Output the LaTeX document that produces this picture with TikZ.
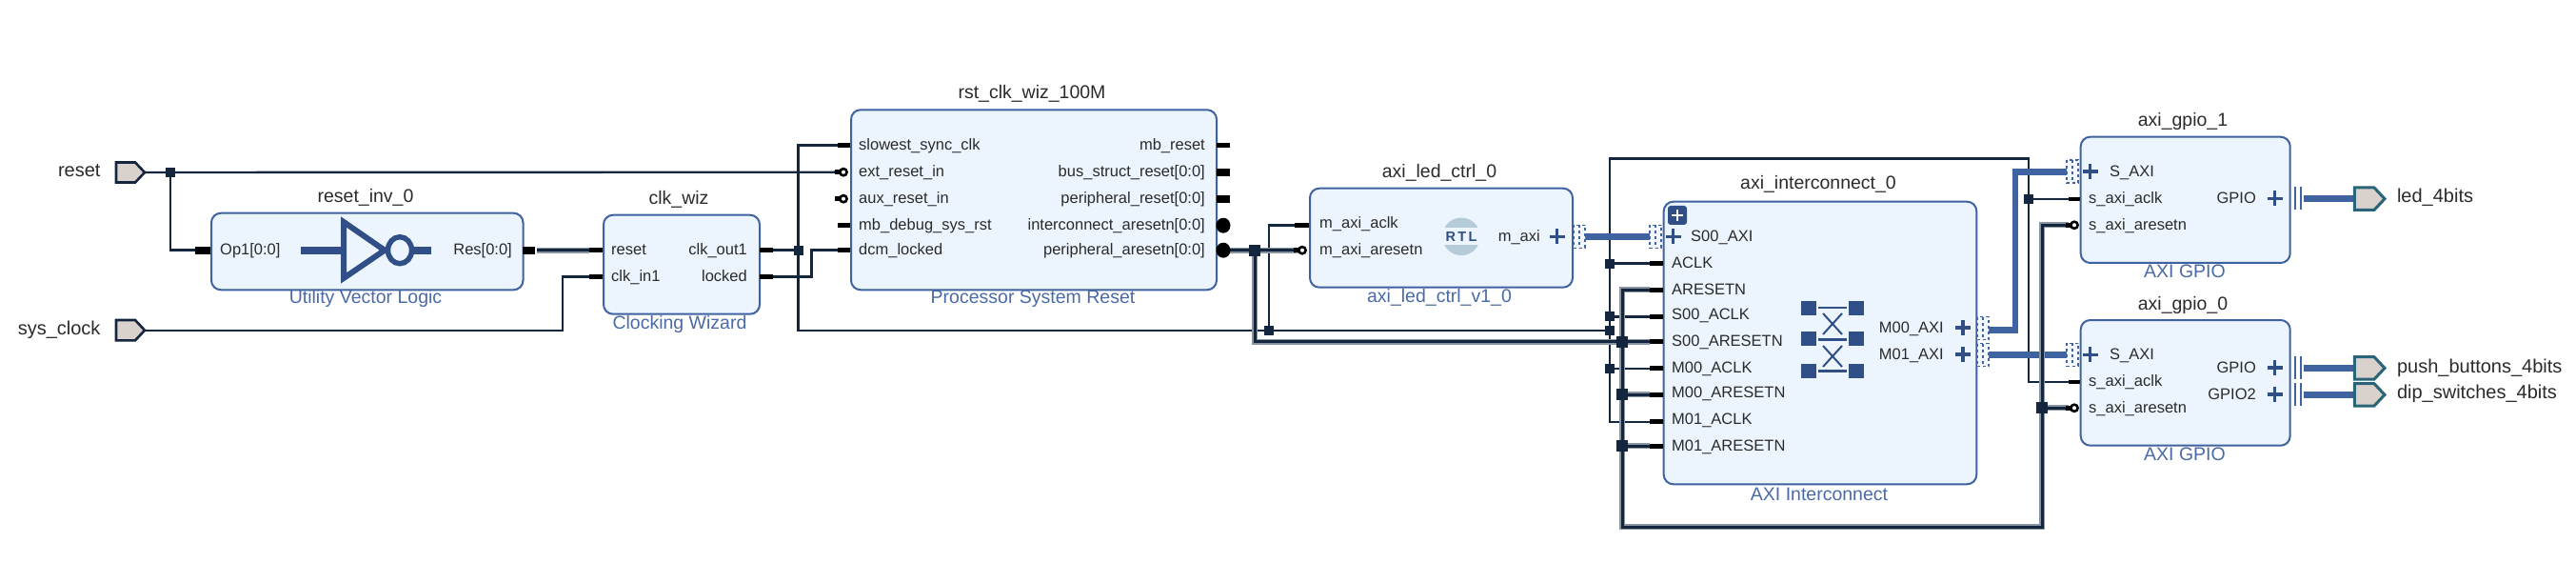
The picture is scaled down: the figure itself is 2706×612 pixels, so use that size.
\documentclass[tikz,border=0pt]{standalone}
\usepackage{fontspec}
\setmainfont{Liberation Sans}
\usetikzlibrary{backgrounds}
\definecolor{wirec}{HTML}{13263E}
\definecolor{thickc}{HTML}{8A95A2}
\definecolor{busc}{HTML}{3F62A0}
\definecolor{boxf}{HTML}{ECF4FD}
\definecolor{boxd}{HTML}{3F62A0}
\definecolor{iconc}{HTML}{2F4F86}
\definecolor{subc}{HTML}{4A6AA8}
\definecolor{txtc}{HTML}{2B2B2B}
\definecolor{portf}{HTML}{D9D2CC}
\definecolor{portd}{HTML}{2A6478}
\definecolor{rtlc}{HTML}{B5CBD8}
\tikzset{
  ipblock/.style={draw=boxd,fill=boxf,line width=2,rounded corners=10,inner sep=0,anchor=north west},
  wire/.style={draw=wirec,line width=2.4},
  fatwire/.style={draw=thickc,line width=6,postaction={draw=wirec,line width=3}},
  buswire/.style={draw=busc,line width=6.5},
  jct/.style={fill=wirec,inner sep=0,minimum width=10,minimum height=10},
  fatjct/.style={fill=wirec,inner sep=0,minimum width=12,minimum height=12},
  pin/.style={font=\fontsize{16.5}{18}\selectfont,text=txtc,inner sep=0,text height=12,text depth=1.5},
  pinl/.style={pin,anchor=west},
  pinr/.style={pin,anchor=east},
  title/.style={font=\fontsize{19.5}{22}\selectfont,text=txtc,inner sep=0,text height=14,text depth=2,anchor=center},
  sub/.style={font=\fontsize{19.5}{22}\selectfont,text=subc,inner sep=0,text height=14,text depth=2,anchor=center},
  extl/.style={font=\fontsize{20}{22}\selectfont,text=txtc,inner sep=0,text height=14.5,text depth=2},
  stub/.style={draw=black,line width=4.5},
  busstub/.style={draw=black,line width=8},
  plusm/.style={draw=iconc,line width=3.4},
  inport/.style={draw=wirec,fill=portf,line width=2.6},
  outport/.style={draw=portd,fill=portf,line width=3},
  dotb/.style={fill=boxf!70,draw=busc,line width=1.3,dash pattern=on 3 off 3},
}
\newcommand{\plusmk}[2]{\draw[plusm] (#1,#2) ++(-8,0) -- ++(16,0) (#1,#2) ++(0,-8) -- ++(0,16);}
\newcommand{\dotbx}[2]{\draw[dotb] (#1-6,#2-12) rectangle (#1+6,#2+12) (#1,#2-12) -- (#1,#2+12);}
\newcommand{\bubble}[2]{\draw[stub] (#1-8,#2) -- (#1+4,#2); \draw[draw=black,fill=white,line width=2.6] (#1+1,#2) circle (3.6);}
\newcommand{\barsq}[2]{\fill[iconc] (#1,#2) rectangle ++(16,15);}
\begin{document}
\begin{tikzpicture}[x=1pt,y=-1pt]
\useasboundingbox (0,0) rectangle (2706,612);
\begin{scope}[on background layer]
\fill[white] (0,0) rectangle (2706,612);
\end{scope}

% ---- blocks
\node[ipblock,minimum width=327.5,minimum height=80.6] (inv) at (221,222.7) {};
\node[ipblock,minimum width=164,minimum height=104] (wiz) at (633,224.7) {};
\node[ipblock,minimum width=384,minimum height=189] (rst) at (893,114.3) {};
\node[ipblock,minimum width=276,minimum height=104] (led) at (1375,196.7) {};
\node[ipblock,minimum width=328.6,minimum height=296.6] (ic) at (1746.7,210.7) {};
\node[ipblock,minimum width=220,minimum height=132.3] (g1) at (2184.7,142.7) {};
\node[ipblock,minimum width=220,minimum height=131.7] (g0) at (2184.7,335) {};

% ---- titles
\node[title] (t1) at (384,206.7) {reset\_inv\_0};
\node[title] (t2) at (713,209) {clk\_wiz};
\node[title] (t3) at (1084,98) {rst\_clk\_wiz\_100M};
\node[title] (t4) at (1512,180.7) {axi\_led\_ctrl\_0};
\node[title] (t5) at (1910,192.7) {axi\_interconnect\_0};
\node[title] (t6) at (2293,126.7) {axi\_gpio\_1};
\node[title] (t7) at (2293,319.3) {axi\_gpio\_0};
\node[sub] (s1) at (384,313) {Utility Vector Logic};
\node[sub] (s2) at (714,339.7) {Clocking Wizard};
\node[sub] (s3) at (1085,313) {Processor System Reset};
\node[sub] (s4) at (1512,311.7) {axi\_led\_ctrl\_v1\_0};
\node[sub] (s5) at (1911,519.3) {AXI Interconnect};
\node[sub] (s6) at (2295,285.3) {AXI GPIO};
\node[sub] (s7) at (2295,477) {AXI GPIO};

% ---- external ports
\draw[inport] (122,170.5) -- (142,170.5) -- (152,181) -- (142,191.5) -- (122,191.5) -- cycle;
\draw[inport] (122,336) -- (142,336) -- (152,346.7) -- (142,357.4) -- (122,357.4) -- cycle;
\draw[outport] (2473.4,197) -- (2494,197) -- (2505,208.7) -- (2494,220.4) -- (2473.4,220.4) -- cycle;
\draw[outport] (2473.4,374.7) -- (2494,374.7) -- (2505,386.4) -- (2494,398.1) -- (2473.4,398.1) -- cycle;
\draw[outport] (2473.4,402.7) -- (2494,402.7) -- (2505,414.4) -- (2494,426.1) -- (2473.4,426.1) -- cycle;
\coordinate (pReset) at (152,181);
\coordinate (pSys) at (152,346.7);
\coordinate (pLed) at (2473.4,208.7);
\coordinate (pPush) at (2473.4,386.4);
\coordinate (pDip) at (2473.4,414.4);
\node[extl,anchor=east] (l1) at (105.7,179) {reset};
\node[extl,anchor=east] (l2) at (105.7,345) {sys\_clock};
\node[extl,anchor=west] (l3) at (2517.8,206.7) {led\_4bits};
\node[extl,anchor=west] (l4) at (2517.8,385) {push\_buttons\_4bits};
\node[extl,anchor=west] (l5) at (2517.8,412.7) {dip\_switches\_4bits};

% ---- pin labels
\node[pinl] at (231,262.7) {Op1[0:0]};
\node[pinr] at (538,262.7) {Res[0:0]};
\node[pinl] at (642,262.7) {reset};
\node[pinl] at (642,290.7) {clk\_in1};
\node[pinr] at (785,262.7) {clk\_out1};
\node[pinr] at (785,290.7) {locked};
\node[pinl] at (902,152.7) {slowest\_sync\_clk};
\node[pinl] at (902,180.7) {ext\_reset\_in};
\node[pinl] at (902,208.7) {aux\_reset\_in};
\node[pinl] at (902,236.7) {mb\_debug\_sys\_rst};
\node[pinl] at (902,262.7) {dcm\_locked};
\node[pinr] at (1266,152.7) {mb\_reset};
\node[pinr] at (1266,180.7) {bus\_struct\_reset[0:0]};
\node[pinr] at (1266,208.7) {peripheral\_reset[0:0]};
\node[pinr] at (1266,236.7) {interconnect\_aresetn[0:0]};
\node[pinr] at (1266,262.7) {peripheral\_aresetn[0:0]};
\node[pinl] at (1386,234.5) {m\_axi\_aclk};
\node[pinl] at (1386,262.7) {m\_axi\_aresetn};
\node[pinr] at (1618,248.3) {m\_axi};
\node[pinl] at (1776,248) {S00\_AXI};
\node[pinl] at (1756,276.7) {ACLK};
\node[pinl] at (1756,304.3) {ARESETN};
\node[pinl] at (1756,330.7) {S00\_ACLK};
\node[pinl] at (1756,358.7) {S00\_ARESETN};
\node[pinl] at (1756,386.7) {M00\_ACLK};
\node[pinl] at (1756,412.7) {M00\_ARESETN};
\node[pinl] at (1756,440) {M01\_ACLK};
\node[pinl] at (1756,468.3) {M01\_ARESETN};
\node[pinr] at (2042,344) {M00\_AXI};
\node[pinr] at (2042,372) {M01\_AXI};
\node[pinl] at (2216,180) {S\_AXI};
\node[pinl] at (2194,208.3) {s\_axi\_aclk};
\node[pinl] at (2194,236.3) {s\_axi\_aresetn};
\node[pinr] at (2370,208.3) {GPIO};
\node[pinl] at (2216,372.3) {S\_AXI};
\node[pinl] at (2194,400.7) {s\_axi\_aclk};
\node[pinl] at (2194,428.3) {s\_axi\_aresetn};
\node[pinr] at (2370,386) {GPIO};
\node[pinr] at (2370,414) {GPIO2};

% ---- pin coordinates
\coordinate (invI) at (205,262.7);
\coordinate (invO) at (564,262.7);
\coordinate (wizR) at (619,262.7);
\coordinate (wizC) at (619,290.7);
\coordinate (wizO) at (812,262.7);
\coordinate (wizL) at (812,290.7);
\coordinate (rstS) at (880,152.7);
\coordinate (rstE) at (880,180.7);
\coordinate (rstD) at (880,262.7);
\coordinate (rstP) at (1292,262.7);
\coordinate (ledC) at (1360,236.7);
\coordinate (ledR) at (1368,262.7);
\coordinate (ledM) at (1664,248.3);
\coordinate (icS) at (1732.7,248.3);
\coordinate (icC) at (1733,276.7);
\coordinate (icR) at (1733,304.3);
\coordinate (icSC) at (1733,332.3);
\coordinate (icSR) at (1733,358.7);
\coordinate (icMC) at (1733,386.7);
\coordinate (icMR) at (1733,414.3);
\coordinate (icNC) at (1733,442.7);
\coordinate (icNR) at (1733,468.3);
\coordinate (icM0) at (2088,346.7);
\coordinate (icM1) at (2088,372.7);
\coordinate (g1S) at (2173,180.7);
\coordinate (g1C) at (2173.4,209);
\coordinate (g1R) at (2173.4,236.3);
\coordinate (g0S) at (2173,372.7);
\coordinate (g0C) at (2173.4,401);
\coordinate (g0R) at (2173.4,428.3);
\coordinate (g1G) at (2419.5,208.7);
\coordinate (g0G) at (2419.5,386.4);
\coordinate (g0H) at (2419.5,414.4);

% ---- pin stubs
\draw[busstub] (205,262.7) -- (221,262.7);
\draw[busstub] (548.5,262.7) -- (562,262.7);
\draw[stub] (619,262.7) -- (633,262.7);
\draw[stub] (619,290.7) -- (633,290.7);
\draw[stub] (798,262.7) -- (812,262.7);
\draw[stub] (798,290.7) -- (812,290.7);
\draw[stub] (880,152.7) -- (893,152.7);
\bubble{885}{180.7}
\bubble{885}{208.7}
\draw[stub] (880,236.7) -- (893,236.7);
\draw[stub] (880,262.7) -- (893,262.7);
\draw[stub] (1278,152.7) -- (1292,152.7);
\draw[busstub] (1278,180.7) -- (1292,180.7);
\draw[busstub] (1278,208.7) -- (1292,208.7);
\fill[black] (1285,236.7) ellipse (7.5 and 8);
\fill[black] (1285,262.7) ellipse (7.5 and 8);
\draw[stub] (1360,236.7) -- (1375,236.7);
\bubble{1367}{262.7}
\foreach \yy in {276.7,304.3,332.3,358.7,386.7,414.3,442.7,468.3}
  {\draw[stub] (1733,\yy) -- (1746.7,\yy);}
\draw[stub] (2173.4,209) -- (2184.7,209);
\draw[stub] (2173.4,401) -- (2184.7,401);
\bubble{2178}{236.3}
\bubble{2178}{428.3}

% ---- plus marks and interface marks
\plusmk{1635.6}{248.3}
\plusmk{1757.7}{248.3}
\plusmk{2062}{344}
\plusmk{2062}{372}
\plusmk{2195.6}{180}
\plusmk{2195.6}{372.3}
\plusmk{2389.7}{208.3}
\plusmk{2389.7}{386}
\plusmk{2389.7}{414}
\dotbx{1659}{248.3}
\dotbx{1739}{248.3}
\dotbx{2083}{344.7}
\dotbx{2083}{372.5}
\dotbx{2177}{180}
\dotbx{2177}{372.3}
\draw[busc,line width=1.4]
  (2411,196) -- (2411,220) (2417,196) -- (2417,220)
  (2411,374) -- (2411,398) (2417,374) -- (2417,398)
  (2411,402) -- (2411,426) (2417,402) -- (2417,426);

% ---- expand button on the interconnect
\fill[iconc,rounded corners=3] (1752,216) rectangle (1772,236);
\draw[white,line width=2.2] (1756,226) -- (1768,226) (1762,220) -- (1762,232);

% ---- inverter icon
\draw[draw=iconc,line width=8] (316,262.7) -- (358,262.7) (435,262.7) -- (453,262.7);
\draw[draw=iconc,line width=6,fill=boxf,miter limit=4] (361,233) -- (361,292) -- (404,262.7) -- cycle;
\draw[draw=iconc,line width=5.5,fill=boxf] (420,262.7) ellipse (12.5 and 14);

% ---- RTL icon
\fill[rtlc] (1535,248.3) circle (19.8);
\fill[boxf] (1513,239) rectangle (1557,257);
\node[inner sep=0,text=iconc,font=\fontsize{14.5}{16}\bfseries\selectfont] (rtl) at (1535,248.3) {R\,T\,L};

% ---- crossbar icon
\foreach \yy in {316,348.3,381.7} {\barsq{1892}{\yy}\barsq{1942}{\yy}}
\draw[iconc,line width=2.6] (1910,323) -- (1940,323) (1910,356.7) -- (1940,356.7) (1910,389.3) -- (1940,389.3);
\draw[iconc,line width=2] (1915,329) -- (1935,351) (1935,329) -- (1915,351)
  (1915,363) -- (1935,385) (1935,363) -- (1915,385);

% ---- junctions
\node[jct] (jA) at (179,181) {};
\node[jct] (jB) at (838.5,262.7) {};
\node[fatjct] (jC) at (1318,262.7) {};
\node[jct] (jD) at (1333,346.7) {};
\node[jct] (jE) at (1690.7,276.7) {};
\node[jct] (jF) at (1690.7,332.3) {};
\node[jct] (jG) at (1690.7,346.7) {};
\node[jct] (jH) at (1690.7,386.7) {};
\node[fatjct] (jI) at (1704.3,358.7) {};
\node[fatjct] (jJ) at (1704.3,414.3) {};
\node[fatjct] (jK) at (1704.3,468.3) {};
\node[jct] (jL) at (2131,209) {};
\node[fatjct] (jM) at (2145.4,428.3) {};

% ---- connectors
\begin{scope}[on background layer]
\draw[wire] (pReset) -- (rstE);
\draw[wire] (jA.center) |- (invI);
\draw[wire] (pSys) -| (591,290.7) -- (wizC);
\draw[fatwire] (invO) -- (wizR);
\draw[wire] (wizO) -- (jB.center);
\draw[wire] (rstS) -| (838.5,346.7) -- (jD.center);
\draw[wire] (wizL) -| (852.5,262.7) -- (rstD);
\draw[wire] (jD.center) -- (jG.center);
\draw[wire] (jD.center) |- (ledC);
\draw[wire] (jE.center) -- (icC);
\draw[wire] (jF.center) -- (icSC);
\draw[wire] (jH.center) -- (icMC);
\draw[wire] (icNC) -| (1690.7,166.7) -| (2131,401) -- (g0C);
\draw[wire] (jL.center) -- (g1C);
\draw[buswire] (ledM) -- (icS);
\draw[buswire] (icM0) -| (2117,180.7) -- (g1S);
\draw[buswire] (icM1) -- (g0S);
\draw[buswire] (g1G) -- (pLed);
\draw[buswire] (g0G) -- (pPush);
\draw[buswire] (g0H) -- (pDip);
\draw[fatwire] (rstP) -- (ledR);
\draw[fatwire] (jC.center) |- (icSR);
\draw[fatwire] (icR) -| (1704.3,553.3) -| (2145.4,236.3) -- (g1R);
\draw[fatwire] (jJ.center) -- (icMR);
\draw[fatwire] (jK.center) -- (icNR);
\draw[fatwire] (jM.center) -- (g0R);
\end{scope}
\end{tikzpicture}
\end{document}
